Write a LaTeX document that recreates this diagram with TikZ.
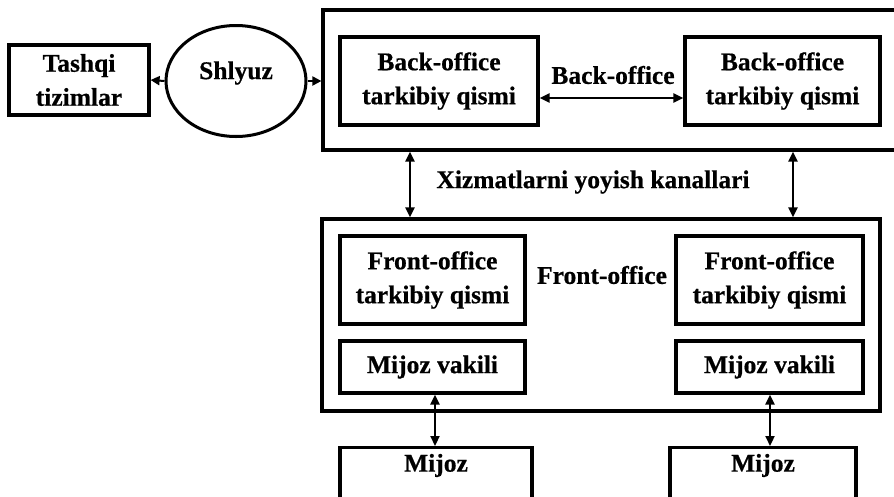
\documentclass[tikz,border=0pt]{standalone}
\usepackage{fontspec}
\setmainfont{Liberation Serif}[BoldFeatures={FakeBold=0.6}]
\usetikzlibrary{shapes.geometric,arrows.meta}
\begin{document}
\begin{tikzpicture}[x=1pt,y=1pt,
  txt/.style={font=\fontsize{25.5}{34}\selectfont\bfseries, align=center},
  box/.style={txt, draw, line width=3.2pt, rectangle, inner sep=0pt},
  outerbox/.style={draw, line width=3.2pt, rectangle, inner sep=0pt},
  darrow/.style={line width=2.2pt, {Triangle[length=10pt,width=9pt]}-{Triangle[length=10pt,width=9pt]}},
  sarrow/.style={line width=2pt, -{Triangle[length=9pt,width=9pt]}}]
\path[use as bounding box] (0,0) rectangle (894,-496);
\clip (0,0) rectangle (894,-496);
% outer boxes
\node[outerbox, minimum width=580, minimum height=140] (back) at (613,-80) {};
\node[outerbox, minimum width=558, minimum height=192] (front) at (601,-315) {};
% left side
\node[box, minimum width=140, minimum height=70] (tash) at (79,-80) {Tashqi\\tizimlar};
\node[txt, draw, line width=3pt, ellipse, minimum width=140, minimum height=111, inner sep=0pt] (shl) at (236,-81) {};
\node[txt] (shlt) at (236,-73) {Shlyuz};
% back-office components
\node[box, minimum width=198, minimum height=88] (bo1) at (439,-81) {Back-office\\tarkibiy qismi};
\node[box, minimum width=195, minimum height=88] (bo2) at (782.5,-81) {Back-office\\tarkibiy qismi};
\node[txt] (bol) at (613,-75) {Back-office};
% front-office components
\node[box, minimum width=185, minimum height=88] (fo1) at (432.5,-280) {Front-office\\tarkibiy qismi};
\node[box, minimum width=187, minimum height=88] (fo2) at (769.5,-280) {Front-office\\tarkibiy qismi};
\node[txt] (fol) at (602,-275) {Front-office};
\node[box, minimum width=185, minimum height=52] (mv1) at (432.5,-367) {Mijoz vakili};
\node[box, minimum width=187, minimum height=52] (mv2) at (769.5,-367) {Mijoz vakili};
% clients
\node[box, anchor=north, minimum width=192, text height=17pt, text depth=60pt, inner ysep=7pt] (mij1) at (436,-446) {Mijoz};
\node[box, anchor=north, minimum width=186, text height=17pt, text depth=60pt, inner ysep=7pt] (mij2) at (763,-446) {Mijoz};
% channel label
\node[txt] (xiz) at (593,-182) {Xizmatlarni yoyish kanallari};
% connectors
\coordinate (ybo) at (0,-98);
\coordinate (xa1) at (410,0);
\coordinate (xa2) at (793,0);
\coordinate (xm1) at (435,0);
\coordinate (xm2) at (770,0);
\draw[sarrow] (shl.west) -- (tash.east);
\draw[sarrow] (shl.east) -- (shl.east -| back.west);
\draw[darrow] (bo1.east |- ybo) -- (bo2.west |- ybo);
\draw[darrow] (back.south -| xa1) -- (front.north -| xa1);
\draw[darrow] (back.south -| xa2) -- (front.north -| xa2);
\draw[darrow] (mv1.south -| xm1) -- (mij1.north -| xm1);
\draw[darrow] (mv2.south -| xm2) -- (mij2.north -| xm2);
\end{tikzpicture}
\end{document}
